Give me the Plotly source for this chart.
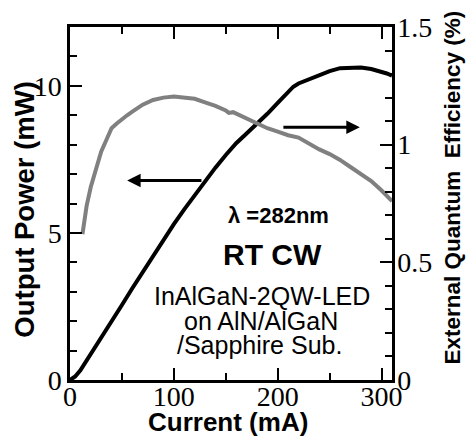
import plotly.graph_objects as go

# Output power (left axis, mW) vs current (mA)
current_p = [0, 5, 10, 15, 20, 30, 40, 50, 60, 70, 80, 90, 100, 110, 120, 130, 140, 150, 160, 170,
             180, 190, 200, 210, 215, 220, 230, 240, 250, 260, 270, 280, 290, 300, 305, 310]
power_mw = [0, 0.12, 0.33, 0.6, 0.88, 1.42, 1.98, 2.55, 3.12, 3.68, 4.22, 4.77, 5.3, 5.8, 6.28, 6.78,
            7.22, 7.65, 8.05, 8.38, 8.7, 9.05, 9.42, 9.8, 9.97, 10.08, 10.22, 10.35, 10.5, 10.6, 10.6,
            10.62, 10.57, 10.48, 10.42, 10.35]

# External quantum efficiency (right axis, %) vs current (mA)
current_e = [12, 14, 16, 20, 22, 25, 30, 35, 40, 45, 50, 55, 60, 70, 80, 90, 100, 110, 120, 130, 140,
             150, 153, 157, 170, 180, 190, 200, 210, 220, 230, 240, 250, 260, 270, 280, 290, 300, 310]
eqe_pct = [0.62, 0.68, 0.74, 0.82, 0.85, 0.9, 0.97, 1.02, 1.07, 1.09, 1.11, 1.125, 1.14, 1.17, 1.19,
           1.2, 1.205, 1.2, 1.195, 1.18, 1.165, 1.145, 1.135, 1.138, 1.11, 1.09, 1.07, 1.055, 1.04,
           1.03, 1.005, 0.98, 0.96, 0.935, 0.905, 0.875, 0.845, 0.805, 0.76]

x_ticks = [0, 100, 200, 300]
y_ticks = [0, 5, 10]
y2_ticks = [0, 0.5, 1, 1.5]
y2_labels = ["0", "0.5", "1", "1.5"]

SANS = "Liberation Sans"
SERIF = "Liberation Serif"

fig = go.Figure()
fig.add_trace(go.Scatter(x=current_p, y=power_mw, mode="lines",
                         line=dict(color="black", width=4), yaxis="y", showlegend=False))
fig.add_trace(go.Scatter(x=current_e, y=eqe_pct, mode="lines",
                         line=dict(color="#808080", width=4), yaxis="y2", showlegend=False))

tickfont = dict(family=SERIF, size=28, color="black")
fig.update_layout(
    width=467, height=436,
    margin=dict(l=70, r=75, t=23, b=56),
    paper_bgcolor="white", plot_bgcolor="white",
    xaxis=dict(range=[0, 310], tickvals=x_ticks, ticks="inside", ticklen=12, tickwidth=2,
               tickcolor="black", showline=True, linewidth=2.5, linecolor="black",
               mirror="ticks", showgrid=False, zeroline=False, tickfont=tickfont,
               ticklabelstandoff=-10,
               minor=dict(dtick=50, ticks="inside", ticklen=7, tickwidth=2, tickcolor="black",
                          showgrid=False)),
    yaxis=dict(range=[0, 12], tickvals=y_ticks, ticks="inside", ticklen=12, tickwidth=2,
               tickcolor="black", showline=True, linewidth=2.5, linecolor="black",
               mirror=False, showgrid=False, zeroline=False, tickfont=tickfont,
               minor=dict(dtick=1, ticks="inside", ticklen=7, tickwidth=2, tickcolor="black",
                          showgrid=False)),
    yaxis2=dict(range=[0, 1.5], tickvals=y2_ticks, ticktext=y2_labels, overlaying="y",
                side="right", ticks="inside", ticklen=12, tickwidth=2, tickcolor="black",
                showline=True, linewidth=2.5, linecolor="black", showgrid=False,
                zeroline=False, tickfont=tickfont, ticklabelstandoff=-3,
                minor=dict(dtick=0.1, ticks="inside", ticklen=7, tickwidth=2,
                           tickcolor="black", showgrid=False)),
)

ann = []
def txt(s, x, y, size, bold=True, angle=0):
    ann.append(dict(text=(f"<b>{s}</b>" if bold else s), x=x, y=y, xref="paper", yref="paper",
                    xanchor="center", yanchor="middle", showarrow=False, textangle=angle,
                    font=dict(family=SANS, size=size, color="black")))

txt("Output Power (mW)", -0.14, 0.485, 27.5, angle=-90)
txt("External Quantum  Efficiency (%)", 1.189, 0.545, 22.5, angle=-90)
txt("Current (mA)", 0.49, -0.12, 26)
txt("λ =282nm", 0.646, 0.465, 22)
txt("RT CW", 0.630, 0.356, 30)
txt("InAlGaN-2QW-LED", 0.595, 0.238, 25, bold=False)
txt("on AlN/AlGaN", 0.593, 0.168, 25, bold=False)
txt("/Sapphire Sub.", 0.587, 0.098, 25, bold=False)

# arrows: (head x, tail x, y in mW)
arrows = [(55, 128, 6.78), (279, 204, 8.59)]
for hx, tx, yy in arrows:
    ann.append(dict(x=hx, y=yy, ax=tx, ay=yy, xref="x", yref="y", axref="x", ayref="y",
                    text="", showarrow=True, arrowhead=2, arrowsize=0.9, arrowwidth=3,
                    arrowcolor="black", standoff=0, startstandoff=0))

fig.update_layout(annotations=ann)
fig.write_html("out.html")
